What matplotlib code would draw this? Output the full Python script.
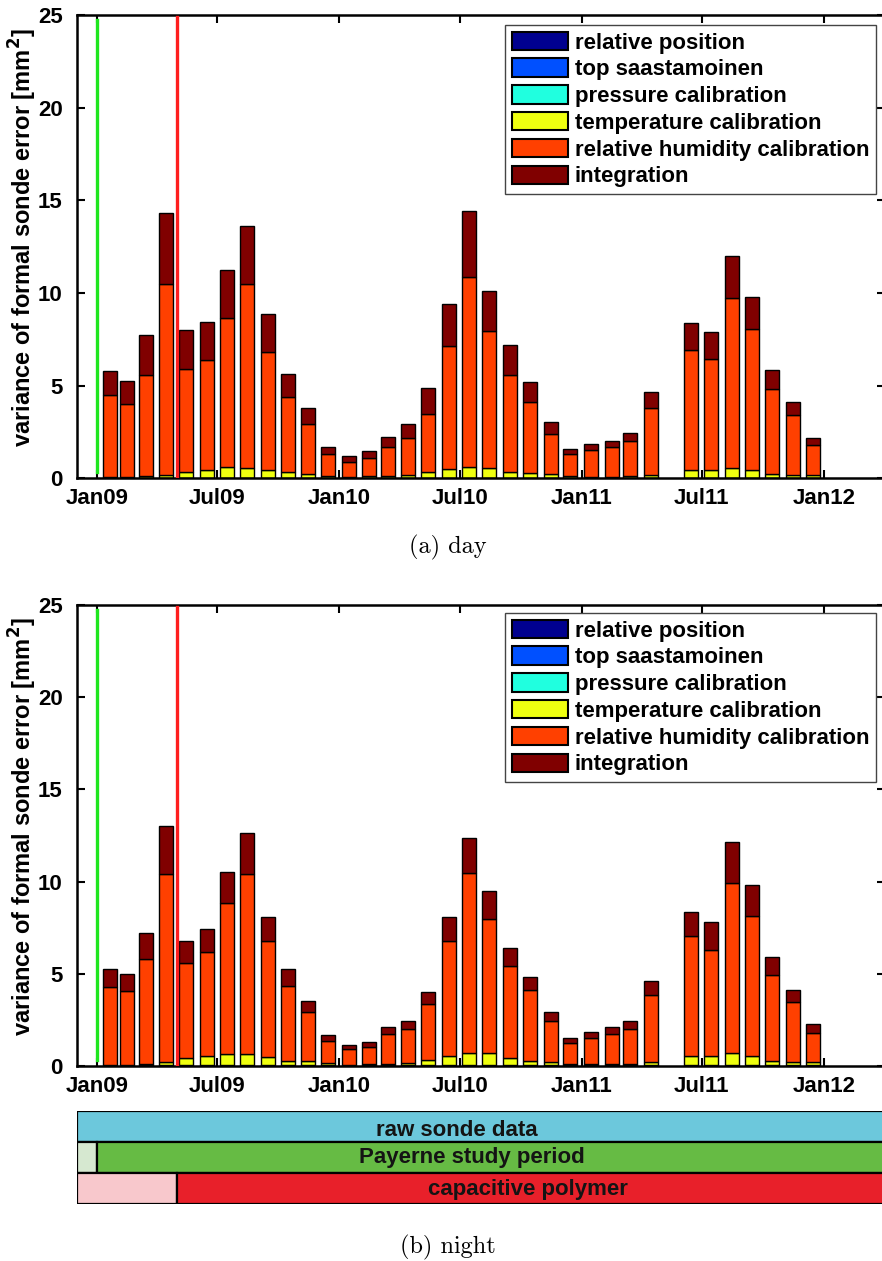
import matplotlib
matplotlib.use('Agg')
import matplotlib.pyplot as plt
import matplotlib.dates as mdates
import numpy as np
import pandas as pd

plt.rcParams['font.family'] = ['Liberation Sans', 'DejaVu Sans']
plt.rcParams['font.weight'] = 'bold'
plt.rcParams['axes.labelweight'] = 'bold'

# monthly bars (May 2011 has no data)
bar_dates = ['2009-01-20', '2009-02-15', '2009-03-15', '2009-04-15', '2009-05-15', '2009-06-15',
             '2009-07-15', '2009-08-15', '2009-09-15', '2009-10-15', '2009-11-15', '2009-12-15',
             '2010-01-15', '2010-02-15', '2010-03-15', '2010-04-15', '2010-05-15', '2010-06-15',
             '2010-07-15', '2010-08-15', '2010-09-15', '2010-10-15', '2010-11-15', '2010-12-15',
             '2011-01-15', '2011-02-15', '2011-03-15', '2011-04-15', '2011-06-15',
             '2011-07-15', '2011-08-15', '2011-09-15', '2011-10-15', '2011-11-15', '2011-12-15']

components = ['relative position', 'top saastamoinen', 'pressure calibration',
              'temperature calibration', 'relative humidity calibration', 'integration']
colors = ['#00008f', '#0050ff', '#20ffdf', '#efff10', '#ff4000', '#800000']

# the first three terms are almost nothing
position_err = 0.01
saastamoinen_err = 0.01
pressure_err = 0.01

# day: cumulative levels
day_temp_top = [0.09, 0.05, 0.10, 0.18, 0.34, 0.45, 0.59, 0.58, 0.47, 0.32, 0.25, 0.13,
                0.05, 0.10, 0.12, 0.18, 0.32, 0.52, 0.63, 0.56, 0.34, 0.27, 0.23, 0.13,
                0.09, 0.07, 0.13, 0.16, 0.45, 0.45, 0.58, 0.45, 0.25, 0.18, 0.18]
day_rh_top = [4.50, 4.01, 5.58, 10.51, 5.90, 6.39, 8.66, 10.48, 6.84, 4.41, 2.93, 1.30,
              0.90, 1.12, 1.67, 2.20, 3.46, 7.15, 10.85, 7.96, 5.58, 4.10, 2.39, 1.30,
              1.51, 1.71, 2.02, 3.78, 6.93, 6.43, 9.72, 8.06, 4.82, 3.42, 1.80]
day_total = [5.81, 5.27, 7.74, 14.29, 8.01, 8.46, 11.25, 13.64, 8.87, 5.65, 3.78, 1.69,
             1.19, 1.49, 2.25, 2.95, 4.88, 9.40, 14.45, 10.08, 7.20, 5.20, 3.06, 1.60,
             1.85, 2.03, 2.43, 4.64, 8.37, 7.87, 12.00, 9.81, 5.85, 4.10, 2.16]

# night
night_temp_top = [0.05, 0.08, 0.10, 0.22, 0.42, 0.56, 0.65, 0.65, 0.51, 0.29, 0.25, 0.18,
                  0.07, 0.10, 0.12, 0.14, 0.33, 0.56, 0.72, 0.69, 0.42, 0.29, 0.23, 0.10,
                  0.10, 0.10, 0.12, 0.22, 0.56, 0.56, 0.69, 0.56, 0.27, 0.23, 0.22]
night_rh_top = [4.30, 4.09, 5.82, 10.39, 5.57, 6.18, 8.86, 10.43, 6.80, 4.34, 2.95, 1.36,
                0.92, 1.05, 1.72, 1.99, 3.34, 6.80, 10.48, 7.99, 5.42, 4.12, 2.42, 1.23,
                1.54, 1.75, 2.02, 3.85, 7.05, 6.29, 9.92, 8.13, 4.92, 3.49, 1.81]
night_total = [5.24, 5.01, 7.23, 13.02, 6.76, 7.43, 10.54, 12.65, 8.06, 5.24, 3.52, 1.68,
               1.14, 1.30, 2.13, 2.44, 4.00, 8.06, 12.35, 9.49, 6.40, 4.84, 2.91, 1.52,
               1.86, 2.10, 2.44, 4.59, 8.33, 7.81, 12.17, 9.82, 5.93, 4.12, 2.26]

study_start = '2009-01-01'
polymer_start = '2009-05-01'
tick_dates = ['2009-01-01', '2009-07-01', '2010-01-01', '2010-07-01',
              '2011-01-01', '2011-07-01', '2012-01-01']
xlim = ('2008-12-01', '2012-04-01')

W, H = 882, 1261
fig = plt.figure(figsize=(W / 100, H / 100), dpi=100)


def px_axes(x0, x1, y_top, y_bot):
    return fig.add_axes([x0 / W, 1 - y_bot / H, (x1 - x0) / W, (y_bot - y_top) / H])


def draw_panel(ax, temp_top, rh_top, total, leg_top):
    x = mdates.date2num(pd.to_datetime(bar_dates))
    n = len(x)
    temp_top = np.array(temp_top)
    rh_top = np.array(rh_top)
    total = np.array(total)
    small = position_err + saastamoinen_err + pressure_err
    layers = [np.full(n, position_err), np.full(n, saastamoinen_err), np.full(n, pressure_err),
              temp_top - small, rh_top - temp_top, total - rh_top]
    bottom = np.zeros(n)
    for vals, c, name in zip(layers, colors, components):
        ax.bar(x, vals, width=21, bottom=bottom, color=c, edgecolor='black',
               linewidth=1.0, label=name, zorder=2)
        bottom += vals

    g = mdates.date2num(pd.Timestamp(study_start))
    r = mdates.date2num(pd.Timestamp(polymer_start))
    ax.plot([g, g], [0.35, 24.75], color='#1ee61e', lw=2.4, zorder=3)
    ax.plot([r, r], [0.05, 24.9], color='#ff1e1e', lw=2.4, zorder=3)

    ax.set_xlim(mdates.date2num(pd.Timestamp(xlim[0])), mdates.date2num(pd.Timestamp(xlim[1])))
    ax.set_ylim(0, 25)
    ax.set_yticks([0, 5, 10, 15, 20, 25])
    ax.set_xticks(mdates.date2num(pd.to_datetime(tick_dates)))
    ax.xaxis.set_major_formatter(mdates.DateFormatter('%b%y'))
    ax.tick_params(direction='in', length=6, width=1.5, top=True, right=True,
                   labelsize=16)
    ax.tick_params(axis='y', pad=10)
    ax.tick_params(axis='x', pad=7)
    for s in ax.spines.values():
        s.set_linewidth(1.8)
    ax.set_ylabel('variance of formal sonde error [mm$^\\mathbf{2}$]', fontsize=17)
    ax.yaxis.set_label_coords(-0.047, 0.52)
    leg = ax.legend(loc='upper right', bbox_to_anchor=(876 / W, 1 - leg_top / H),
                    bbox_transform=fig.transFigure, fontsize=16, fancybox=False,
                    framealpha=1, edgecolor='#444444', handlelength=2.55,
                    handleheight=0.9, handletextpad=0.3, labelspacing=0.22,
                    borderpad=0.3, borderaxespad=0)
    leg.get_frame().set_linewidth(1.0)
    for p in leg.get_patches():
        p.set_linewidth(1.5)


ax1 = px_axes(76.5, 884.5, 15, 478.3)
draw_panel(ax1, day_temp_top, day_rh_top, day_total, 25)

ax2 = px_axes(76.5, 884.5, 605, 1066)
draw_panel(ax2, night_temp_top, night_rh_top, night_total, 613)

fig.text(448 / W, 1 - 547.5 / H, '(a) day', family='cmr10', weight='normal',
         fontsize=17.5, ha='center', va='center')
fig.text(448 / W, 1 - 1247.5 / H, '(b) night', family='cmr10', weight='normal',
         fontsize=17.5, ha='center', va='center')

# timeline of the data sets below the night panel
ax3 = px_axes(76.5, 884.5, 1110.7, 1204)
x0 = mdates.date2num(pd.Timestamp(xlim[0]))
x1 = mdates.date2num(pd.Timestamp(xlim[1])) + 40
gs = mdates.date2num(pd.Timestamp(study_start))
ps = mdates.date2num(pd.Timestamp(polymer_start))
rows = [
    [(x0, x1, '#6cc8dc')],
    [(x0, gs, '#d6e8d0'), (gs, x1, '#66bb44')],
    [(x0, ps, '#f8c8cc'), (ps, x1, '#e8202a')],
]
for i, segs in enumerate(rows):
    for a, b, c in segs:
        ax3.barh(2 - i, b - a, left=a, height=1.0, color=c, edgecolor='black', linewidth=1.6)
ax3.set_xlim(x0, mdates.date2num(pd.Timestamp(xlim[1])))
ax3.set_ylim(-0.5, 2.5)
ax3.axis('off')

row_labels = ['raw sonde data', 'Payerne study period', 'capacitive polymer']
label_x = [456.5, 471.5, 527.5]
label_y = [1136.3, 1163.5, 1195.3]
for t, lx, ly in zip(row_labels, label_x, label_y):
    fig.text(lx / W, 1 - ly / H, t, family=['Liberation Sans Narrow', 'Liberation Sans'],
             weight='bold', fontsize=16, color='#141414', ha='center', va='baseline')

fig.savefig('out.png', dpi=100)
